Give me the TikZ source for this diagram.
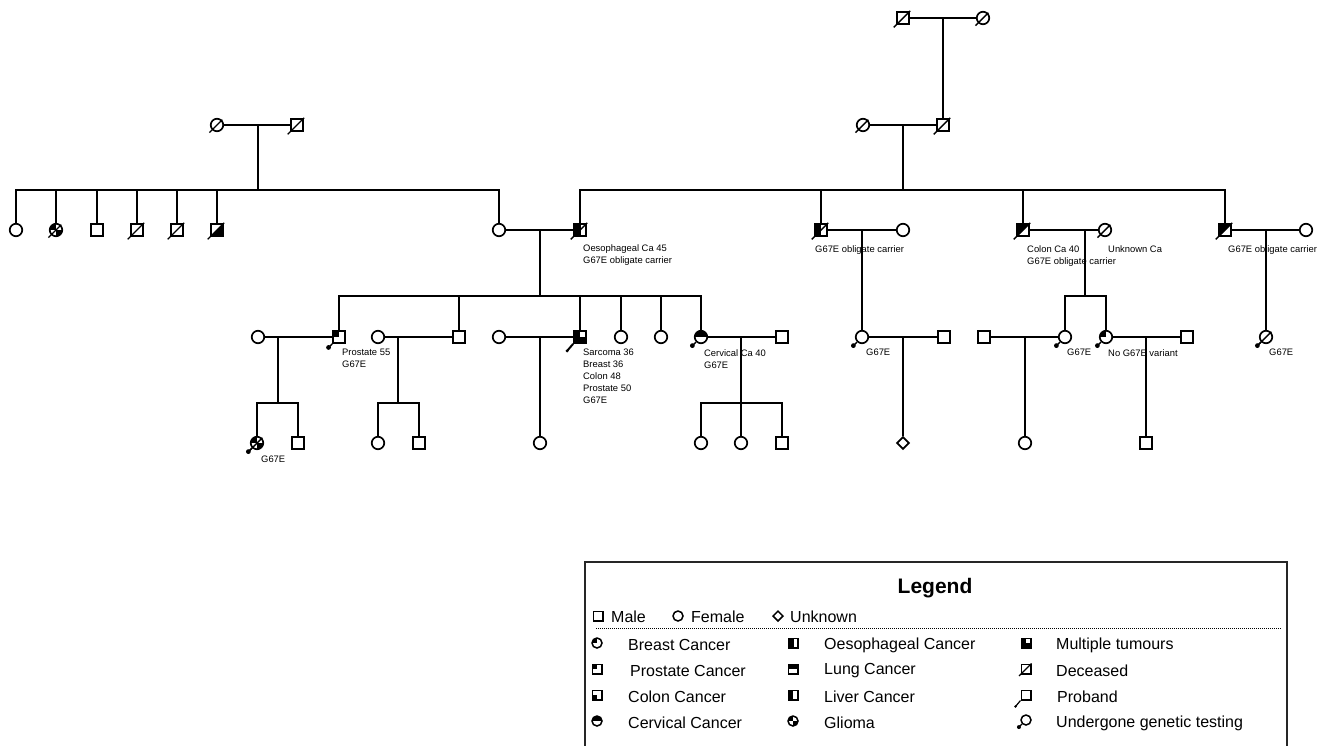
\documentclass[tikz,border=0pt]{standalone}
\usepackage{fontspec}
\setmainfont{Liberation Sans}
\usetikzlibrary{shapes.geometric,calc}
\newcommand\pdec[1]{\draw[line width=1.4pt] ($(#1.south west)+(-2.5,2.5)$) -- ($(#1.north east)+(0.3,-0.3)$);}
\newcommand\ptest[1]{\draw[line width=1.4pt] (#1.south west) -- ++(-3,3); \fill ($(#1.south west)+(-3.6,3.6)$) circle (2.4);}
\newcommand\pprob[1]{\draw[line width=2pt] (#1.south west) -- ++(-6,7); \fill ($(#1.south west)+(-6,7)$) circle (1.7);}
\tikzset{
  conn/.style={line width=1.7pt},
  person/.style={draw, line width=1.7pt, inner sep=0pt, fill=white},
  male/.style={person, rectangle, minimum size=12pt},
  female/.style={person, circle, minimum size=12.5pt},
  unk/.style={person, diamond, minimum size=12.5pt},
  f-ul/.style={path picture={\fill[black] (path picture bounding box.north west) rectangle (path picture bounding box.center);}},
  f-ll/.style={path picture={\fill[black] (path picture bounding box.south west) rectangle (path picture bounding box.center);}},
  f-top/.style={path picture={\fill[black] (path picture bounding box.north west) rectangle (path picture bounding box.east);}},
  f-left/.style={path picture={\fill[black] (path picture bounding box.north west) rectangle (path picture bounding box.south);}},
  f-oes/.style={path picture={\fill[black] (path picture bounding box.north west) rectangle ($(path picture bounding box.south west)!0.62!(path picture bounding box.south east)$);}},
  f-liver/.style={path picture={\fill[black] (path picture bounding box.north west) rectangle ($(path picture bounding box.south west)!0.45!(path picture bounding box.south east)$);}},
  f-multi/.style={path picture={\fill[black] (path picture bounding box.south west) rectangle (path picture bounding box.north); \fill[black] (path picture bounding box.south west) rectangle (path picture bounding box.east);}},
  f-glioma/.style={path picture={\fill[black] (path picture bounding box.north west) rectangle (path picture bounding box.center); \fill[black] (path picture bounding box.south east) rectangle (path picture bounding box.center);}},
  f-lrtri/.style={path picture={\fill[black] (path picture bounding box.south west) -- (path picture bounding box.south east) -- (path picture bounding box.north east) -- cycle;}},
  f-ultri/.style={path picture={\fill[black] (path picture bounding box.south west) -- (path picture bounding box.north west) -- (path picture bounding box.north east) -- cycle;}},
  lbl/.style={font=\fontsize{9.4}{12}\selectfont, anchor=north west, inner sep=0pt, align=left},
  leg/.style={font=\fontsize{16}{18}\selectfont, anchor=west, inner sep=0pt},
  licon/.style={draw, line width=1.5pt, inner sep=0pt, fill=white},
  lsq/.style={licon, rectangle, minimum size=9.5pt},
  lci/.style={licon, circle, minimum size=10pt},
  ldi/.style={licon, diamond, minimum size=10.5pt},
}
\begin{document}
\begin{tikzpicture}[x=1pt,y=-1pt]
\useasboundingbox (0,0) rectangle (1319,745);
\clip (0,0) rectangle (1319,745);
% ---------------- Generation I ----------------
\node[male] (t1) at (903,18) {};
\node[female] (t2) at (983,18) {};
\node[female] (l1) at (217,125) {};
\node[male] (l2) at (297,125) {};
\node[female] (r2) at (863,125) {};
\node[male] (r1) at (943,125) {};
% ---------------- Generation II ----------------
\node[female] (a1) at (16,230) {};
\node[female,f-glioma] (a2) at (56,230) {};
\node[male] (a3) at (97,230) {};
\node[male] (a4) at (137,230) {};
\node[male] (a5) at (177,230) {};
\node[male,f-lrtri] (a6) at (217,230) {};
\node[female] (a7) at (499,230) {};
\node[male,f-oes] (b1) at (580,230) {};
\node[male,f-left] (b2) at (821,230) {};
\node[female] (b2w) at (903,230) {};
\node[male,f-ultri] (b3) at (1023,230) {};
\node[female] (b3w) at (1105,230) {};
\node[male,f-ultri] (b4) at (1225,230) {};
\node[female] (b4w) at (1306,230) {};
% ---------------- Generation III ----------------
\node[female] (c1w) at (258,337) {};
\node[male,f-ul] (c1) at (339,337) {};
\node[female] (c2w) at (378,337) {};
\node[male] (c2) at (459,337) {};
\node[female] (c3w) at (499,337) {};
\node[male,f-multi] (c3) at (580,337) {};
\node[female] (c4) at (621,337) {};
\node[female] (c5) at (661,337) {};
\node[female,f-top] (c6) at (701,337) {};
\node[male] (c6h) at (782,337) {};
\node[female] (d1) at (862,337) {};
\node[male] (d1h) at (944,337) {};
\node[male] (e0h) at (984,337) {};
\node[female] (e1) at (1065,337) {};
\node[female,f-ul] (e2) at (1106,337) {};
\node[male] (e2h) at (1187,337) {};
\node[female] (g1) at (1266,337) {};
% ---------------- Generation IV ----------------
\node[female,f-glioma] (h1) at (257,443) {};
\node[male] (h2) at (298,443) {};
\node[female] (h3) at (378,443) {};
\node[male] (h4) at (419,443) {};
\node[female] (h5) at (540,443) {};
\node[female] (h6) at (701,443) {};
\node[female] (h7) at (741,443) {};
\node[male] (h8) at (782,443) {};
\node[unk] (h9) at (903,443) {};
\node[female] (h10) at (1025,443) {};
\node[male] (h11) at (1146,443) {};
% ---------------- junction points ----------------
\coordinate (mT) at (943,18);
\coordinate (mL) at (258,125); \coordinate (sL) at (258,190);
\coordinate (mR) at (903,125); \coordinate (sR) at (903,190);
\coordinate (mB1) at (540,230); \coordinate (sB1) at (540,296);
\coordinate (mB2) at (862,230);
\coordinate (mB3) at (1085,230); \coordinate (sB3) at (1085,296);
\coordinate (mB4) at (1266,230);
\coordinate (mC1) at (278,337); \coordinate (sC1) at (278,403);
\coordinate (mC2) at (398,337); \coordinate (sC2) at (398,403);
\coordinate (mC3) at (540,337);
\coordinate (mC6) at (741,337); \coordinate (sC6) at (741,403);
\coordinate (mD1) at (903,337);
\coordinate (mE0) at (1025,337);
\coordinate (mE2) at (1146,337);
% ---------------- connectors ----------------
\begin{scope}[conn]
\draw (t1) -- (t2); \draw (mT) -- (r1);
\draw (l1) -- (l2); \draw (mL) -- (sL);
\draw (r2) -- (r1); \draw (mR) -- (sR);
\foreach \c in {a1,a2,a3,a4,a5,a6,a7} \draw (\c) |- (sL);
\foreach \c in {b1,b2,b3,b4} \draw (\c) |- (sR);
\draw (a7) -- (b1); \draw (mB1) -- (sB1);
\foreach \c in {c1,c2,c3,c4,c5,c6} \draw (\c) |- (sB1);
\draw (b2) -- (b2w); \draw (mB2) -- (d1);
\draw (b3) -- (b3w); \draw (mB3) -- (sB3);
\foreach \c in {e1,e2} \draw (\c) |- (sB3);
\draw (b4) -- (b4w); \draw (mB4) -- (g1);
\draw (c1w) -- (c1); \draw (mC1) -- (sC1);
\foreach \c in {h1,h2} \draw (\c) |- (sC1);
\draw (c2w) -- (c2); \draw (mC2) -- (sC2);
\foreach \c in {h3,h4} \draw (\c) |- (sC2);
\draw (c3w) -- (c3); \draw (mC3) -- (h5);
\draw (c6) -- (c6h); \draw (mC6) -- (sC6);
\foreach \c in {h6,h7,h8} \draw (\c) |- (sC6);
\draw (d1) -- (d1h); \draw (mD1) -- (h9);
\draw (e0h) -- (e1); \draw (mE0) -- (h10);
\draw (e2) -- (e2h); \draw (mE2) -- (h11);
\end{scope}
% ---------------- status marks ----------------
\foreach \p in {t1,t2,l1,l2,r1,r2,a2,a4,a5,a6,b1,b2,b3,b3w,b4,g1,h1} {\pdec{\p}}
\foreach \p in {c1,c6,d1,e1,e2,g1,h1} {\ptest{\p}}
\pprob{c3}
% ---------------- labels ----------------
\node[lbl] (lb1) at (583,244) {Oesophageal Ca 45\\G67E obligate carrier};
\node[lbl] (lb2) at (815,245) {G67E obligate carrier};
\node[lbl] (lb3) at (1027,245) {Colon Ca 40\\G67E obligate carrier};
\node[lbl] (lb4) at (1108,245) {Unknown Ca};
\node[lbl] (lb5) at (1228,245) {G67E obligate carrier};
\node[lbl] (lb6) at (342,349) {Prostate 55\\G67E};
\node[lbl] (lb7) at (583,349) {Sarcoma 36\\Breast 36\\Colon 48\\Prostate 50\\G67E};
\node[lbl] (lb8) at (704,349) {Cervical Ca 40\\G67E};
\node[lbl] (lb9) at (866,349) {G67E};
\node[lbl] (lb10) at (1067,349) {G67E};
\node[lbl] (lb11) at (1108,349) {No G67E variant};
\node[lbl] (lb12) at (1269,349) {G67E};
\node[lbl] (lb13) at (261,456) {G67E};
% ---------------- legend ----------------
\draw[line width=1.5pt, black!85] (585,760) -- (585,562) -- (1287,562) -- (1287,760);
\node[font=\bfseries\fontsize{21}{24}\selectfont, inner sep=0pt] (lgt) at (935,588) {Legend};
\node[lsq] (k1) at (598,616) {}; \node[leg] (k1t) at (611,617) {Male};
\node[lci] (k2) at (678,616) {}; \node[leg] (k2t) at (691,617) {Female};
\node[ldi] (k3) at (778,616) {}; \node[leg] (k3t) at (790,617) {Unknown};
\draw[line width=0.9pt, dash pattern=on 1pt off 1pt] (596,628) -- (1281,628);
% column 1
\node[lci,f-ul] (k4) at (597,643) {}; \node[leg] (k4t) at (628,645) {Breast Cancer};
\node[lsq,f-ul] (k5) at (597,669) {}; \node[leg] (k5t) at (630,671) {Prostate Cancer};
\node[lsq,f-ll] (k6) at (597,695) {}; \node[leg] (k6t) at (628,697) {Colon Cancer};
\node[lci,f-top] (k7) at (597,721) {}; \node[leg] (k7t) at (628,723) {Cervical Cancer};
% column 2
\node[lsq,f-oes] (k8) at (793,643) {}; \node[leg] (k8t) at (824,645) {Oesophageal Cancer};
\node[lsq,f-top] (k9) at (793,669) {}; \node[leg] (k9t) at (824,671) {Lung Cancer};
\node[lsq,f-liver] (k10) at (793,695) {}; \node[leg] (k10t) at (824,697) {Liver Cancer};
\node[lci,f-glioma] (k11) at (793,721) {}; \node[leg] (k11t) at (824,723) {Glioma};
% column 3
\node[lsq,f-multi] (k12) at (1026,643) {}; \node[leg] (k12t) at (1056,645) {Multiple tumours};
\node[lsq] (k13) at (1026,669) {}; \node[leg] (k13t) at (1056,671) {Deceased};
\draw[line width=1.2pt] ($(k13.south west)+(-1.5,1.5)$) -- (k13.north east);
\node[lsq] (k14) at (1026,695) {}; \node[leg] (k14t) at (1057,697) {Proband};
\draw[line width=1.2pt] (k14.south west) -- ++(-5,6); \fill ($(k14.south west)+(-5,6)$) circle (1.3);
\node[lci] (k15) at (1026,720) {}; \node[leg] (k15t) at (1056,723) {Undergone genetic testing};
\draw[line width=1.2pt] (k15.south west) -- ++(-2.5,2.5); \fill ($(k15.south west)+(-3,3)$) circle (2);
\end{tikzpicture}
\end{document}
